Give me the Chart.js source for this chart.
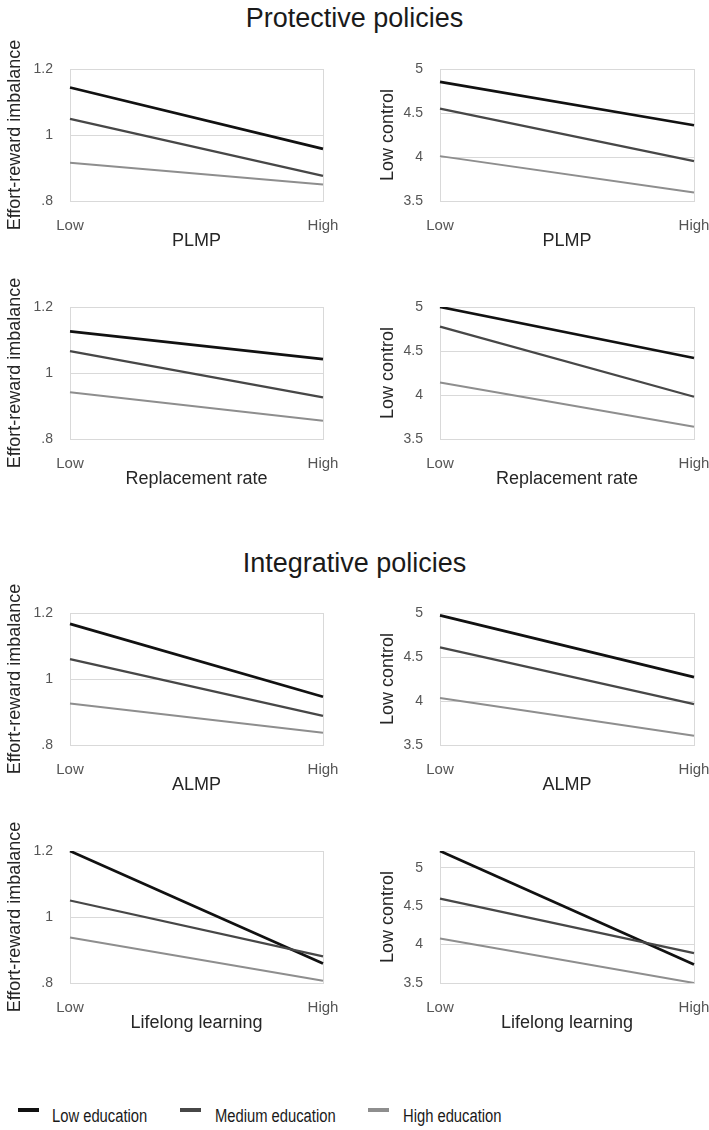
<!DOCTYPE html>
<html>
<head>
<meta charset="utf-8">
<script src="https://cdn.jsdelivr.net/npm/chart.js@4.4.1/dist/chart.umd.min.js"></script>
<style>
  html, body { margin: 0; padding: 0; background: #fff; overflow: hidden; }
  body { width: 709px; height: 1130px; position: relative; font-family: "Liberation Sans", Arial, sans-serif; }
  .sec { position: absolute; left: 0; width: 709px; text-align: center; font-size: 27px; line-height: 27px; color: #1a1a1a; }
  .box { position: absolute; }
  .leg { position: absolute; top: 1104px; height: 24px; }
  .swatch { position: absolute; width: 21px; height: 4px; top: 4px; }
  .ltxt { position: absolute; white-space: nowrap; font-size: 18px; line-height: 18px; top: 3px; color: #1a1a1a; transform: scaleX(0.82); transform-origin: 0 0; }
</style>
</head>
<body>
<div class="sec" style="top:5px">Protective policies</div>
<div class="sec" style="top:550px">Integrative policies</div>

<div class="box" style="left:0px;top:24px;width:343px;height:232px"><canvas id="c1"></canvas></div>
<div class="box" style="left:373px;top:24px;width:336px;height:232px"><canvas id="c2"></canvas></div>
<div class="box" style="left:0px;top:262px;width:343px;height:232px"><canvas id="c3"></canvas></div>
<div class="box" style="left:373px;top:262px;width:336px;height:232px"><canvas id="c4"></canvas></div>
<div class="box" style="left:0px;top:568px;width:343px;height:232px"><canvas id="c5"></canvas></div>
<div class="box" style="left:373px;top:568px;width:336px;height:232px"><canvas id="c6"></canvas></div>
<div class="box" style="left:0px;top:806px;width:343px;height:232px"><canvas id="c7"></canvas></div>
<div class="box" style="left:373px;top:806px;width:336px;height:232px"><canvas id="c8"></canvas></div>

<div id="legend"></div>

<script>
// ---- categories and labels ----
const categories = ['Low', 'High'];
const seriesNames = ['Low education', 'Medium education', 'High education'];
const xTitles = ['PLMP', 'PLMP', 'Replacement rate', 'Replacement rate', 'ALMP', 'ALMP', 'Lifelong learning', 'Lifelong learning'];
const erTitle = 'Effort-reward imbalance';
const lcTitle = 'Low control';

// ---- tick values / labels ----
const erTicks = [0.8, 1.0, 1.2];
const erTickLabels = ['.8', '1', '1.2'];
const lcTicks = [3.5, 4.0, 4.5, 5.0];
const lcTickLabels = ['3.5', '4', '4.5', '5'];
const erRange = [0.8, 1.2];
const lcRange = [3.5, 5.0];
const lcRangeLifelong = [3.5, 5.22];

// ---- series values (Low, High) ----
const erPLMPLow = [1.144, 0.958];
const erPLMPMed = [1.049, 0.876];
const erPLMPHigh = [0.916, 0.850];

const lcPLMPLow = [4.853, 4.361];
const lcPLMPMed = [4.550, 3.954];
const lcPLMPHigh = [4.010, 3.596];

const erRRLow = [1.126, 1.042];
const erRRMed = [1.066, 0.926];
const erRRHigh = [0.942, 0.855];

const lcRRLow = [5.000, 4.420];
const lcRRMed = [4.776, 3.980];
const lcRRHigh = [4.141, 3.640];

const erALMPLow = [1.167, 0.946];
const erALMPMed = [1.060, 0.888];
const erALMPHigh = [0.926, 0.837];

const lcALMPLow = [4.973, 4.271];
const lcALMPMed = [4.608, 3.964];
const lcALMPHigh = [4.035, 3.606];

const erLLLow = [1.200, 0.859];
const erLLMed = [1.050, 0.881];
const erLLHigh = [0.938, 0.807];

const lcLLLow = [5.220, 3.740];
const lcLLMed = [4.600, 3.890];
const lcLLHigh = [4.080, 3.500];

// ---- styles ----
const lineColors = ['#111111', '#474747', '#8e8e8e'];
const lineWidths = [2.7, 2.3, 2.0];
const gridColor = '#d9d9d9';
const tickColor = '#555555';
const titleColor = '#262626';
const FONT = '"Liberation Sans", Arial, sans-serif';

const boxPlugin = {
  id: 'plotBox',
  beforeDatasetsDraw(chart) {
    const a = chart.chartArea, ctx = chart.ctx;
    ctx.save();
    ctx.strokeStyle = gridColor;
    ctx.lineWidth = 1;
    ctx.strokeRect(Math.round(a.left) + 0.5, Math.round(a.top) + 0.5, Math.round(a.right - a.left), Math.round(a.bottom - a.top));
    ctx.restore();
  }
};

function makeChart(id, series, kind, xTitle, range, yWidth, padRight) {
  const ticks = kind === 'er' ? erTicks : lcTicks;
  const tickLabels = kind === 'er' ? erTickLabels : lcTickLabels;
  new Chart(document.getElementById(id), {
    type: 'line',
    data: {
      labels: categories,
      datasets: series.map((s, i) => ({
        label: seriesNames[i],
        data: s,
        borderColor: lineColors[i],
        backgroundColor: lineColors[i],
        borderWidth: lineWidths[i],
        pointRadius: 0,
        tension: 0,
        fill: false
      })).reverse()
    },
    options: {
      responsive: true,
      maintainAspectRatio: false,
      animation: false,
      layout: { padding: { top: 45, right: padRight, bottom: 0, left: 0 } },
      plugins: { legend: { display: false }, tooltip: { enabled: false } },
      scales: {
        x: {
          type: 'category',
          offset: false,
          grid: { display: true, color: gridColor, drawTicks: false },
          border: { display: true, color: gridColor },
          ticks: { color: tickColor, font: { family: FONT, size: 15 }, padding: 16, maxRotation: 0, autoSkip: false },
          title: { display: true, text: xTitle, color: titleColor, font: { family: FONT, size: 18 }, padding: { top: 4, bottom: 4 } },
          afterFit(scale) { scale.height = 55; scale.paddingLeft = 0; scale.paddingRight = 0; }
        },
        y: {
          min: range[0],
          max: range[1],
          grid: { display: true, color: gridColor, drawTicks: false },
          border: { display: true, color: gridColor },
          afterBuildTicks(scale) { scale.ticks = ticks.map(v => ({ value: v })); },
          ticks: {
            color: tickColor,
            font: { family: FONT, size: 14 },
            padding: 17,
            callback: (v) => {
              const idx = ticks.findIndex(t => Math.abs(t - v) < 1e-6);
              return idx >= 0 ? tickLabels[idx] : '';
            }
          },
          title: { display: true, text: kind === 'er' ? erTitle : lcTitle, color: titleColor, font: { family: FONT, size: 18 }, padding: { top: 4, bottom: 4 } },
          afterFit(scale) { scale.width = yWidth; scale.paddingTop = 0; scale.paddingBottom = 0; }
        }
      }
    },
    plugins: [boxPlugin]
  });
}

makeChart('c1', [erPLMPLow, erPLMPMed, erPLMPHigh], 'er', xTitles[0], erRange, 70, 20);
makeChart('c2', [lcPLMPLow, lcPLMPMed, lcPLMPHigh], 'lc', xTitles[1], lcRange, 67, 15);
makeChart('c3', [erRRLow, erRRMed, erRRHigh], 'er', xTitles[2], erRange, 70, 20);
makeChart('c4', [lcRRLow, lcRRMed, lcRRHigh], 'lc', xTitles[3], lcRange, 67, 15);
makeChart('c5', [erALMPLow, erALMPMed, erALMPHigh], 'er', xTitles[4], erRange, 70, 20);
makeChart('c6', [lcALMPLow, lcALMPMed, lcALMPHigh], 'lc', xTitles[5], lcRange, 67, 15);
makeChart('c7', [erLLLow, erLLMed, erLLHigh], 'er', xTitles[6], erRange, 70, 20);
makeChart('c8', [lcLLLow, lcLLMed, lcLLHigh], 'lc', xTitles[7], lcRangeLifelong, 67, 15);

// ---- HTML legend ----
const legendX = [18, 180, 368];
const legendTextX = [52, 215, 403];
const legend = document.getElementById('legend');
seriesNames.forEach((name, i) => {
  const item = document.createElement('div');
  item.className = 'leg';
  item.style.left = '0px';
  item.innerHTML = '<div class="swatch" style="left:' + legendX[i] + 'px;background:' + lineColors[i] + '"></div>' +
                   '<div class="ltxt" style="left:' + legendTextX[i] + 'px">' + name + '</div>';
  legend.appendChild(item);
});
</script>
</body>
</html>
